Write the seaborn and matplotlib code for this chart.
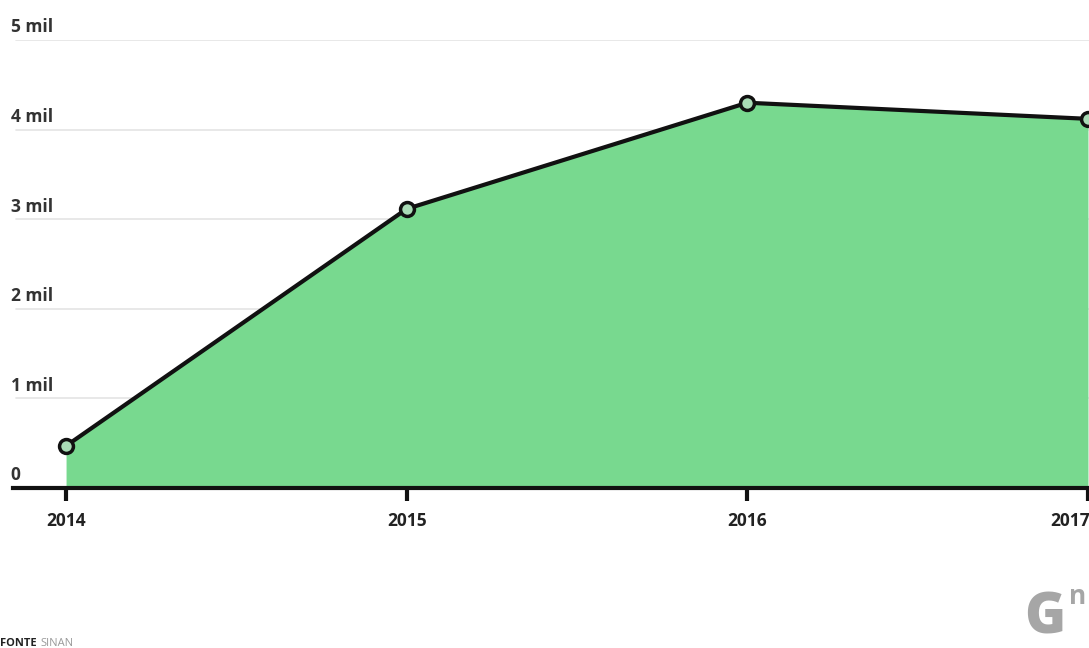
import matplotlib
matplotlib.use("Agg")
import matplotlib.pyplot as plt
import matplotlib.transforms as mtransforms
import seaborn as sns
import pandas as pd

# Notified cases per year
years = [2014, 2015, 2016, 2017]
cases = [470, 3115, 4300, 4120]
y_ticks = [0, 1000, 2000, 3000, 4000, 5000]
y_tick_labels = ["0", "1 mil", "2 mil", "3 mil", "4 mil", "5 mil"]
x_tick_labels = ["2014", "2015", "2016", "2017"]

df = pd.DataFrame({"ano": years, "casos": cases})

sns.set_theme(style="white")
plt.rcParams["font.family"] = ["Open Sans", "DejaVu Sans"]

fig = plt.figure(figsize=(10.89, 6.48), dpi=100)
ax = fig.add_axes([13 / 1089, 1 - 488 / 648, 1 - 13 / 1089, (488 - 40) / 648])

fill_color = "#78d98f"
ax.fill_between(df["ano"], df["casos"], 0, color=fill_color, lw=0, zorder=2)
sns.lineplot(data=df, x="ano", y="casos", ax=ax, color="#111111", lw=3,
             marker="o", markersize=10, markeredgewidth=2.5,
             markeredgecolor="#111111", markerfacecolor="#a9dcb6",
             zorder=4, clip_on=False)

ax.set_xlim(2014 - 53 / 340.3, 2017.003)
ax.set_ylim(0, 5000)

# horizontal guide lines with labels sitting above them
blend = mtransforms.blended_transform_factory(ax.transAxes, ax.transData)
for v, lab in zip(y_ticks, y_tick_labels):
    if v > 0:
        ax.axhline(v, xmin=0.003, color="#e4e4e4", lw=1.2, zorder=1)
    ax.text(-0.002, v + 40, lab, transform=blend,
            ha="left", va="bottom", fontsize=12.5, fontweight="bold", color="#333333")

ax.set_yticks([])
ax.set_xticks(years)
# the last year label is right-aligned against the figure edge
ax.set_xticklabels(x_tick_labels[:-1] + [""], fontsize=12.5, fontweight="bold", color="#222222")
ax.annotate(x_tick_labels[-1], xy=(years[-1], 0), xytext=(1.5, -17.5), textcoords="offset points",
            ha="right", va="top", fontsize=12.5, fontweight="bold", color="#222222",
            annotation_clip=False)
ax.tick_params(axis="x", direction="out", length=9, width=3, color="#111111", pad=8, bottom=True)
ax.set_xlabel("")
ax.set_ylabel("")

for side in ["top", "right", "left"]:
    ax.spines[side].set_visible(False)
ax.spines["bottom"].set_color("#111111")
ax.spines["bottom"].set_linewidth(3)
ax.spines["bottom"].set_zorder(5)

# source note and logo
fig.text(0.0, (648 - 643) / 648, "FONTE", fontsize=8, fontweight="bold", color="#222222",
         ha="left", va="center")
fig.text(40 / 1089, (648 - 643) / 648, "SINAN", fontsize=8, color="#9a9a9a", ha="left", va="center")
fig.text(1045 / 1089, (648 - 634) / 648, "G", fontsize=40, fontweight="heavy", color="#a6a6a6",
         ha="center", va="baseline")
fig.text(1078 / 1089, (648 - 597) / 648, "n", fontsize=19, fontweight="bold", color="#a6a6a6",
         ha="center", va="center")

fig.savefig("out.png", dpi=100)
